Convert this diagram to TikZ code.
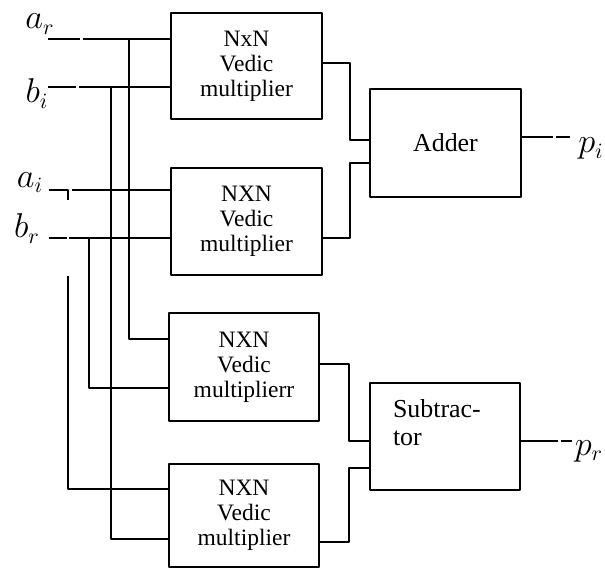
\documentclass[tikz,border=0pt]{standalone}
\usepackage{fontspec}
\setmainfont{Liberation Serif}
\usetikzlibrary{positioning,calc}

\tikzset{
  multbox/.style={draw, line width=1bp, minimum width=75.5bp, minimum height=53bp,
    inner sep=0pt, align=center, font=\fontsize{11.8}{12.5}\selectfont},
  unitbox/.style={draw, line width=1bp, minimum width=75.5bp, minimum height=54bp,
    inner sep=0pt, font=\fontsize{13}{14}\selectfont},
  sig/.style={anchor=base, inner sep=0pt, font=\fontsize{16}{18}\selectfont},
}

\begin{document}
\begin{tikzpicture}[x=0.5bp, y=-0.5bp, line join=bevel]
    \pgfsetlinewidth{0.75bp}
  \useasboundingbox (0,0) rectangle (605,570);
  %%
  % Node: multipliers
  \node[multbox] (m1) at (246.5,66) {NxN\\Vedic\\multiplier};
  \node[multbox, minimum height=53.5bp] (m2) at (246.5,221.5) {NXN\\Vedic\\multiplier};
  \node[multbox, minimum width=75bp, minimum height=54bp] (m3) at (244,367) {NXN\\Vedic\\multiplierr};
  \node[multbox, minimum width=75bp, minimum height=51.5bp] (m4) at (244,515.5) {NXN\\Vedic\\multiplier};
  % Node: adder and subtractor
  \node[unitbox] (add) at (445.5,143) {Adder};
  \node[unitbox, minimum width=75bp, minimum height=53.5bp, align=left, text width=52bp] (sub) at (445,436.5) {Subtrac-\\tor\\~};
  % Node: signal names
  \node[sig] (lar) at (40,29) {$a_r$};
  \node[sig] (lbi) at (37,103) {$b_i$};
  \node[sig] (lai) at (30,187) {$a_i$};
  \node[sig] (lbr) at (27,238) {$b_r$};
  \node[sig] (lpi) at (591,153) {$p_i$};
  \node[sig] (lpr) at (589,455) {$p_r$};
  %
  % wire ends
  \coordinate (ar) at (48,39);
  \coordinate (bi) at (48,87);
  \coordinate (ai) at (49,190);
  \coordinate (aiin) at (72,190);
  \coordinate (aitick) at (68,200);
  \coordinate (br) at (49,238);
  \coordinate (aidrop) at (68,276);
  \coordinate (arbus) at (129,0);
  \coordinate (bibus) at (111,0);
  \coordinate (brbus) at (89,0);
  \coordinate (m3a) at (169,339);
  \coordinate (m3b) at (169,388);
  \coordinate (m4a) at (169,489);
  \coordinate (m4b) at (169,539);
  \coordinate (m1o) at (322,63);
  \coordinate (m2o) at (322,238);
  \coordinate (m3o) at (319,364);
  \coordinate (m4o) at (319,542);
  \coordinate (sumx) at (350,0);
  \coordinate (difx) at (349,0);
  \coordinate (adda) at (370,140);
  \coordinate (addb) at (370,163);
  \coordinate (suba) at (370,441);
  \coordinate (subb) at (370,468);
  \coordinate (pi) at (570,137);
  \coordinate (pr) at (572,441);
  %
  % inputs
  \draw[dash pattern=on 16bp off 1.5bp on 200bp] (ar) -- (ar -| m1.west);
  \draw[dash pattern=on 14bp off 1.5bp on 200bp] (bi) -- (bi -| m1.west);
  \draw (ai) -| (aitick);
  \draw (aiin) -- (aiin -| m2.west);
  \draw[dash pattern=on 9bp off 1bp on 200bp] (br) -- (br -| m2.west);
  \draw (arbus |- ar) |- (m3a);
  \draw (bibus |- bi) |- (m4b);
  \draw (brbus |- br) |- (m3b);
  \draw (aidrop) |- (m4a);
  % products to adder and subtractor
  \draw (m1o) -| (sumx |- adda) -- (adda);
  \draw (m2o) -| (sumx |- addb) -- (addb);
  \draw (m3o) -| (difx |- suba) -- (suba);
  \draw (m4o) -| (difx |- subb) -- (subb);
  % outputs
  \draw[dash pattern=on 15.5bp off 1.5bp on 100bp] (add.east |- pi) -- (pi);
  \draw[dash pattern=on 18.5bp off 1.5bp on 100bp] (sub.east |- pr) -- (pr);
  %
\end{tikzpicture}
\end{document}
